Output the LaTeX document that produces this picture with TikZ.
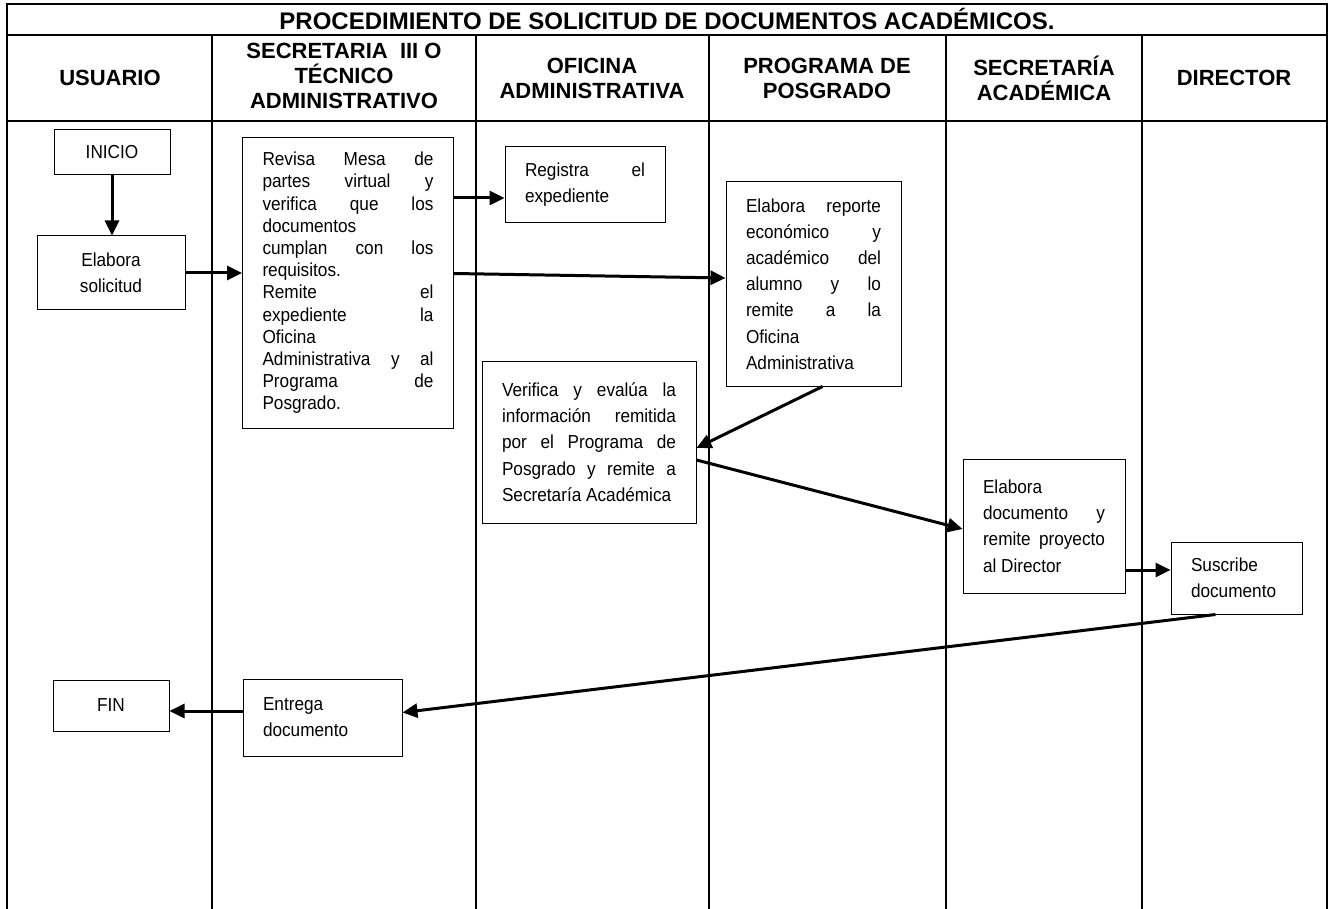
\documentclass[tikz,border=0pt]{standalone}
\usepackage{fontspec}
\setmainfont{Liberation Sans}
\newfontfamily\narrowsans[FakeStretch=0.915]{Liberation Sans}
\usepackage{tikz}
\usetikzlibrary{arrows.meta, calc}

\tikzset{
  box/.style={draw, line width=0.5pt, inner xsep=10pt, inner ysep=0pt,
    align=justify, font=\narrowsans\fontsize{9.4}{13.1}\selectfont},
  flow/.style={line width=1.5pt, -{Triangle[length=7.5pt, width=7pt]}},
  lane/.style={line width=1pt},
  head/.style={align=center, font=\bfseries\fontsize{11}{12.5}\selectfont}
}

\begin{document}
\begin{tikzpicture}[x=0.5pt, y=-0.5pt]
  \useasboundingbox (0,0) rectangle (1333,909);

  \draw[lane] (7,909) -- (7,4) -- (1327,4) -- (1327,909);
  \draw[lane] (7,35) -- (1327,35);
  \draw[lane] (7,121) -- (1327,121);
  \foreach \x in {212, 476, 709, 946, 1142} {
    \draw[lane] (\x,35) -- (\x,909);
  }

  \node[head, font=\bfseries\fontsize{12}{13}\selectfont] (titulo) at (667,19) {PROCEDIMIENTO DE SOLICITUD DE DOCUMENTOS ACADÉMICOS.};
  \node[head] (usuario) at (110,78) {USUARIO};
  \node[head] (secre) at (344,76) {SECRETARIA\ \ III O\\ TÉCNICO\\ ADMINISTRATIVO};
  \node[head] (oficina) at (592,78) {OFICINA\\ ADMINISTRATIVA};
  \node[head] (programa) at (827,78) {PROGRAMA DE\\ POSGRADO};
  \node[head] (secacad) at (1044,78) {SECRETARÍA\\ ACADÉMICA};
  \node[head] (director) at (1234,78) {DIRECTOR};

  \node[box, align=center, text width=38pt, minimum height=22.5pt] (inicio) at (112,152.5) {INICIO};
  \node[box, align=center, text width=54pt, minimum height=37pt] (solicitud) at (111,273) {Elabora\\ solicitud};
  \node[box, text width=85.5pt, minimum height=145.5pt, font=\narrowsans\fontsize{9.4}{11.1}\selectfont] (revisa) at (348,283)
    {Revisa Mesa de\linebreak partes virtual y\linebreak verifica que los\linebreak documentos\linebreak
     cumplan con los\linebreak requisitos.\\ Remite el\linebreak expediente la\linebreak Oficina\linebreak
     Administrativa y al\linebreak Programa de\linebreak Posgrado.};
  \node[box, text width=60pt, minimum height=38pt] (registra) at (585,185) {Registra el\linebreak expediente};
  \node[box, text width=67.5pt, minimum height=102pt] (reporte) at (813.5,284)
    {Elabora reporte\linebreak económico y\linebreak académico del\linebreak alumno y lo\linebreak
     remite a la\linebreak Oficina\linebreak Administrativa};
  \node[box, text width=87pt, minimum height=81pt] (verifica) at (589,442)
    {Verifica y evalúa la\linebreak información remitida\linebreak por el Programa de\linebreak
     Posgrado y remite a\linebreak Secretaría Académica};
  \node[box, text width=61pt, minimum height=67pt] (elabdoc) at (1044,526)
    {Elabora\linebreak documento y\linebreak remite proyecto\linebreak al Director};
  \node[box, text width=45.5pt, minimum height=36pt] (suscribe) at (1236.5,578) {Suscribe\\ documento};
  \node[box, align=center, text width=38pt, minimum height=25.5pt] (fin) at (111,705.5) {FIN};
  \node[box, text width=59.5pt, minimum height=38.5pt] (entrega) at (322.5,717.5) {Entrega\\ documento};

  \draw[flow] (inicio.south) -- (inicio.south |- solicitud.north);
  \draw[flow] (solicitud.east) -- (revisa.west |- solicitud.east);
  \coordinate (r1) at ([yshift=-6.5pt]registra.west);
  \draw[flow] (revisa.east |- r1) -- (r1);
  \draw[flow] ([yshift=4.75pt]revisa.east) -- ([yshift=3pt]reporte.west);
  \draw[flow] ([xshift=4.5pt]reporte.south) -- ([yshift=-3pt]verifica.east);
  \draw[flow] ([yshift=-9pt]verifica.east) -- ([yshift=-1.5pt]elabdoc.west);
  \coordinate (s1) at ([yshift=4pt]suscribe.west);
  \draw[flow] (elabdoc.east |- s1) -- (s1);
  \draw[flow] ([xshift=-10.5pt]suscribe.south) -- ([yshift=2.5pt]entrega.east);
  \coordinate (f1) at ([yshift=-2.75pt]fin.east);
  \draw[flow] (entrega.west |- f1) -- (f1);
\end{tikzpicture}
\end{document}
